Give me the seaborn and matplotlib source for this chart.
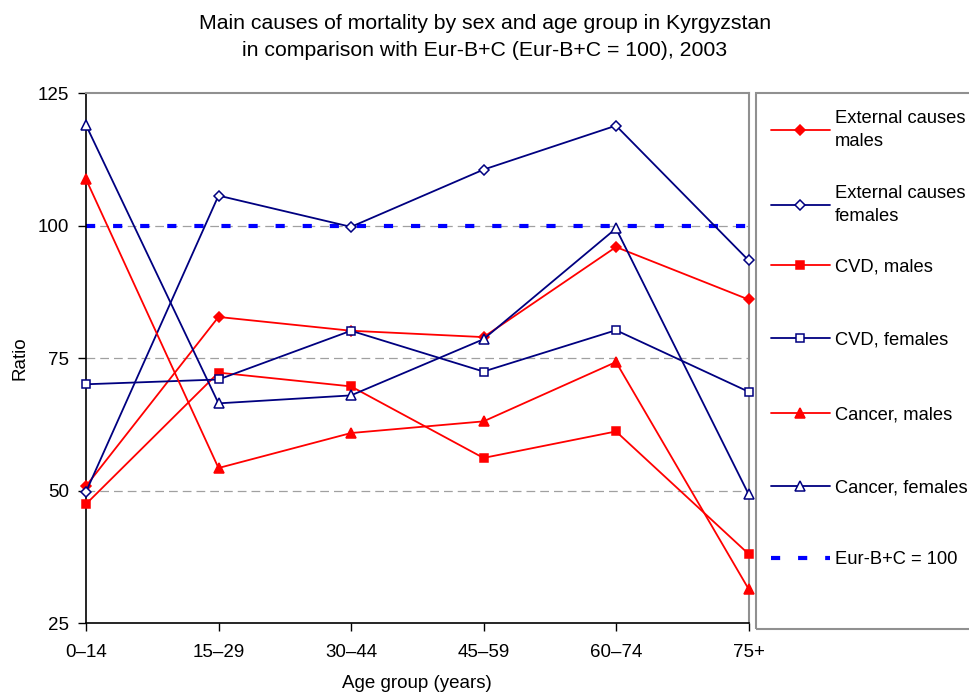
import matplotlib
matplotlib.use("Agg")
import matplotlib.pyplot as plt
from matplotlib.patches import Rectangle
from matplotlib.lines import Line2D
import seaborn as sns
import pandas as pd

# ---- data ----
age_groups = ['0–14', '15–29', '30–44', '45–59', '60–74', '75+']
external_males = [50.9, 82.8, 80.2, 79.0, 96.0, 86.1]
external_females = [49.8, 105.7, 99.8, 110.6, 118.9, 93.5]
cvd_males = [47.5, 72.3, 69.7, 56.2, 61.2, 38.1]
cvd_females = [70.1, 71.0, 80.2, 72.5, 80.3, 68.7]
cancer_males = [108.8, 54.3, 60.9, 63.1, 74.3, 31.5]
cancer_females = [119.0, 66.5, 68.0, 78.6, 99.5, 49.4]
reference_value = 100
y_ticks = [25, 50, 75, 100, 125]

series_names = ['External causes\nmales', 'External causes\nfemales', 'CVD, males',
                'CVD, females', 'Cancer, males', 'Cancer, females']
series_values = [external_males, external_females, cvd_males, cvd_females,
                 cancer_males, cancer_females]
ref_label = 'Eur-B+C = 100'

RED = '#FF0000'
NAVY = '#000080'
styles = [
    dict(color=RED, marker='D', mfc=RED, ms=5.5),
    dict(color=NAVY, marker='D', mfc='white', ms=5.5),
    dict(color=RED, marker='s', mfc=RED, ms=6),
    dict(color=NAVY, marker='s', mfc='white', ms=6),
    dict(color=RED, marker='^', mfc=RED, ms=7),
    dict(color=NAVY, marker='^', mfc='white', ms=7),
]

sns.set_theme(style='white')
plt.rcParams['font.family'] = ['Liberation Sans', 'DejaVu Sans']
plt.rcParams['text.color'] = 'black'
plt.rcParams['axes.labelcolor'] = 'black'
plt.rcParams['xtick.color'] = 'black'
plt.rcParams['ytick.color'] = 'black'

fig = plt.figure(figsize=(9.7, 6.93), dpi=100)
W, H = 970, 693
ax = fig.add_axes([86 / W, 1 - 623.3 / H, (748.5 - 86) / W, (623.3 - 93.3) / H])

# grid lines
for v in [50, 75, 100]:
    ax.axhline(v, color='#A0A0A0', lw=0.9, dashes=(7, 4), zorder=1)

# reference line
ax.axhline(reference_value, color='#0000FF', lw=3.0, dashes=(2.2, 4.3),
           dash_capstyle='butt', zorder=2, label=ref_label)

handles = []
for name, vals, st in zip(series_names, series_values, styles):
    df = pd.DataFrame({'pos': range(len(age_groups)), 'value': vals})
    sns.lineplot(data=df, x='pos', y='value', ax=ax, color=st['color'], lw=1.3,
                 marker=st['marker'], markersize=st['ms'], markerfacecolor=st['mfc'],
                 markeredgecolor=st['color'], markeredgewidth=1.1, label=name,
                 zorder=3, clip_on=False)
    handles.append(ax.get_lines()[-1])
if ax.get_legend() is not None:
    ax.get_legend().remove()

ax.set_xlim(0, len(age_groups) - 1)
ax.set_ylim(25, 125)
ax.set_xticks(range(len(age_groups)))
ax.set_xticklabels(age_groups)
ax.set_yticks(y_ticks)
ax.tick_params(axis='both', which='major', direction='out', length=6, width=1,
               color='black', labelsize=13.5, left=True, bottom=True)
ax.tick_params(axis='x', pad=9)
ax.tick_params(axis='y', pad=6)
ax.set_xlabel('Age group (years)', fontsize=13.5, labelpad=10)
ax.set_ylabel('Ratio', fontsize=13.5, labelpad=7)
for s in ['left', 'bottom']:
    ax.spines[s].set_color('black')
    ax.spines[s].set_linewidth(1.2)
for s in ['top', 'right']:
    ax.spines[s].set_color('#909090')
    ax.spines[s].set_linewidth(1.5)
ax.set_facecolor('white')

fig.suptitle('Main causes of mortality by sex and age group in Kyrgyzstan\n'
             'in comparison with Eur-B+C (Eur-B+C = 100), 2003',
             fontsize=15.3, x=485 / W, y=1 - 14 / H, va='top', linespacing=1.55)

# legend box
fig.add_artist(Rectangle((756 / W, 1 - 629 / H), (990 - 756) / W, (629 - 93.3) / H,
                         transform=fig.transFigure, fill=False, ec='#909090', lw=1.5))

all_handles = handles + [Line2D([], [], color='#0000FF', lw=3.0, dashes=(2.2, 4.3))]
all_labels = series_names + [ref_label]
centers = [130, 205, 267, 340, 415, 488, 560]
for h, lab, cy in zip(all_handles, all_labels, centers):
    leg = fig.legend([h], [lab], loc='center left', bbox_to_anchor=(771 / W, 1 - cy / H),
                     frameon=False, fontsize=13.2, handlelength=3.2, handletextpad=0.3,
                     borderpad=0, borderaxespad=0, labelspacing=0.1)
    for t in leg.get_texts():
        t.set_linespacing(1.5)

fig.savefig('out.png', dpi=100)
